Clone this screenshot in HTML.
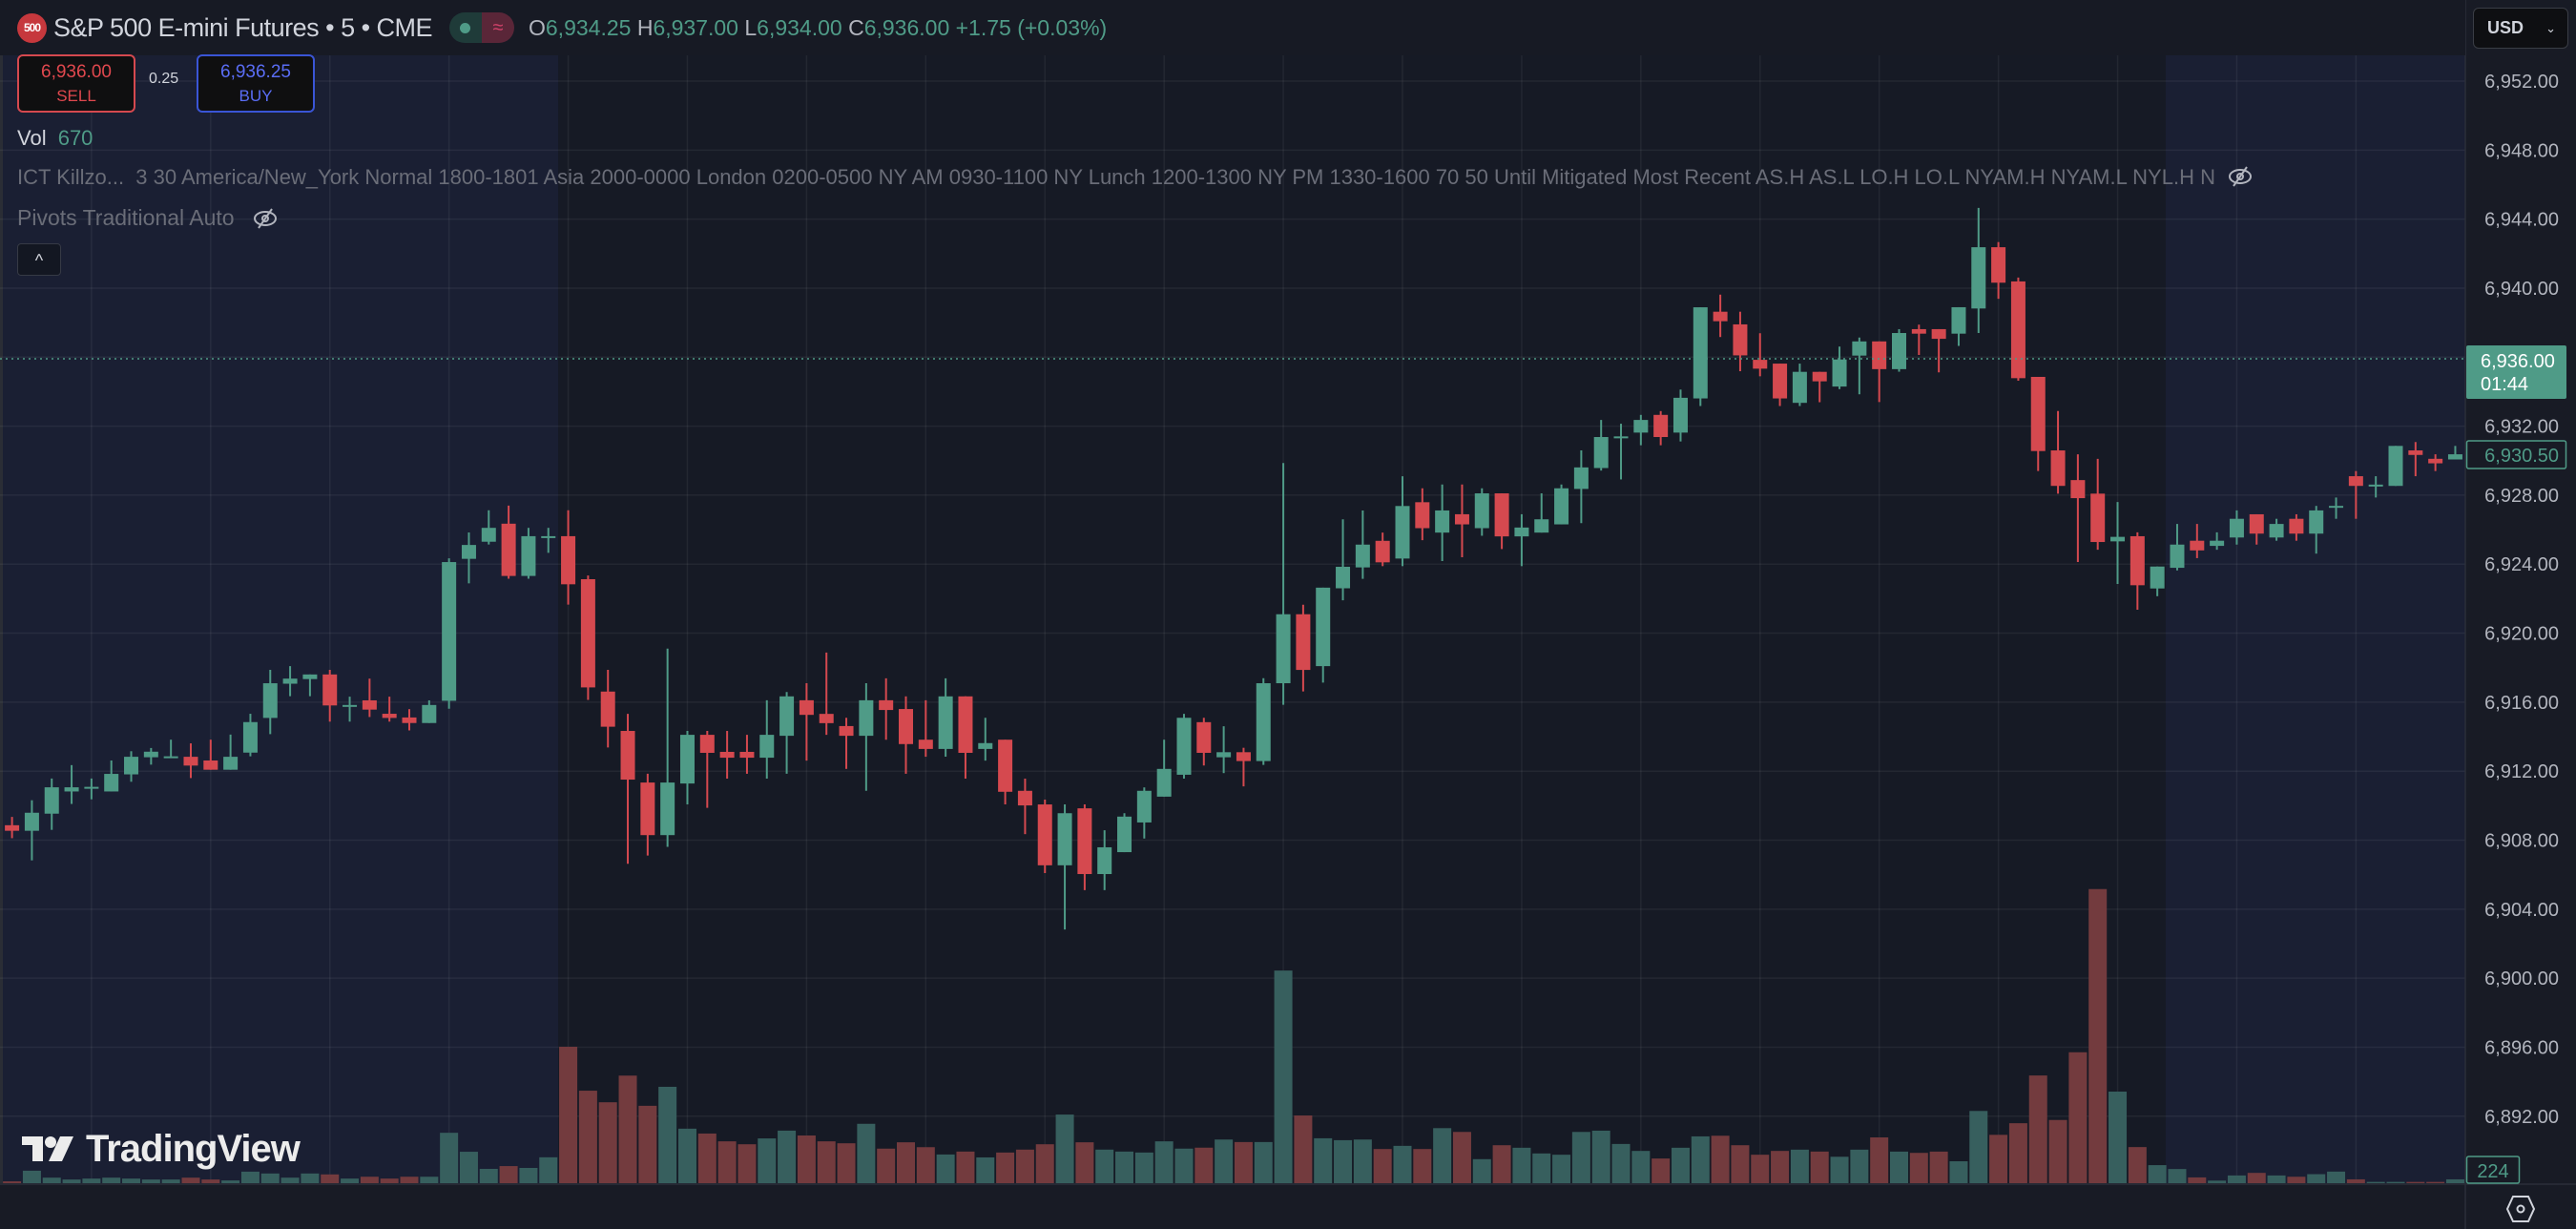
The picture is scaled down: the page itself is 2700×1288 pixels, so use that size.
<!DOCTYPE html>
<html><head><meta charset="utf-8">
<style>
html,body{margin:0;padding:0;background:#161a25;width:2700px;height:1288px;overflow:hidden;font-family:"Liberation Sans",sans-serif}
#c{position:absolute;left:0;top:0}
.t{position:absolute;white-space:nowrap}
</style></head><body>
<svg id="c" width="2700" height="1288" xmlns="http://www.w3.org/2000/svg"></svg>

<div class="t" style="left:0;top:0;width:2584px;height:58px;background:#171a24"></div>
<div class="t" style="left:18px;top:14px;width:31px;height:31px;border-radius:50%;background:#c6383d;color:#fff;font-size:12px;font-weight:bold;line-height:31px;text-align:center;letter-spacing:-1px">500</div>
<div class="t" style="left:56px;top:13px;font-size:27px;color:#d1d4dc;line-height:32px;letter-spacing:-0.5px">S&amp;P 500 E-mini Futures • 5 • CME</div>
<div class="t" style="left:471px;top:13px;width:34px;height:32px;background:#1f3b39;border-radius:16px 0 0 16px"></div>
<div class="t" style="left:505px;top:13px;width:34px;height:32px;background:#5a2638;border-radius:0 16px 16px 0;color:#d2426a;font-size:20px;line-height:32px;text-align:center">≈</div>
<div class="t" style="left:482px;top:24px;width:11px;height:11px;border-radius:50%;background:#4f9b87"></div>
<div class="t" style="left:554px;top:14px;font-size:23px;line-height:30px;color:#4f9b87"><span style="color:#b2b5be">O</span>6,934.25 <span style="color:#b2b5be">H</span>6,937.00 <span style="color:#b2b5be">L</span>6,934.00 <span style="color:#b2b5be">C</span>6,936.00 +1.75 (+0.03%)</div>

<div class="t" style="left:18px;top:57px;border:2px solid #d5494f;border-radius:6px;background:#0f0f10;text-align:center;color:#e0484e;font-size:19px;line-height:25px;padding-top:4px;box-sizing:border-box;width:124px;height:61px">6,936.00<br><span style="font-size:17px">SELL</span></div>
<div class="t" style="left:156px;top:74px;font-size:16px;color:#d1d4dc">0.25</div>
<div class="t" style="left:206px;top:57px;width:124px;height:61px;border:2px solid #3a55d6;border-radius:6px;background:#0f0f10;text-align:center;color:#5a6df5;font-size:19px;line-height:25px;padding-top:4px;box-sizing:border-box">6,936.25<br><span style="font-size:17px">BUY</span></div>

<div class="t" style="left:18px;top:132px;font-size:22px;color:#d1d4dc">Vol <span style="color:#4f9b87;margin-left:6px">670</span></div>
<div class="t" style="left:18px;top:171px;font-size:22px;color:#6a6d78;line-height:30px">ICT Killzo...&nbsp;&nbsp;3 30 America/New_York Normal 1800-1801 Asia 2000-0000 London 0200-0500 NY AM 0930-1100 NY Lunch 1200-1300 NY PM 1330-1600 70 50 Until Mitigated Most Recent AS.H AS.L LO.H LO.L NYAM.H NYAM.L NYL.H N</div>
<div class="t" style="left:18px;top:213px;font-size:23px;color:#6a6d78;line-height:30px">Pivots Traditional Auto</div>
<svg class="t" style="left:264px;top:216px" width="28" height="26" viewBox="0 0 28 26"><ellipse cx="14" cy="13" rx="11" ry="7" fill="none" stroke="#b2b5be" stroke-width="2"/><circle cx="14" cy="13" r="3" fill="none" stroke="#b2b5be" stroke-width="2"/><line x1="7" y1="23" x2="21" y2="3" stroke="#b2b5be" stroke-width="2"/></svg>
<svg class="t" style="left:2334px;top:172px" width="28" height="26" viewBox="0 0 28 26"><ellipse cx="14" cy="13" rx="11" ry="7" fill="none" stroke="#b2b5be" stroke-width="2"/><circle cx="14" cy="13" r="3" fill="none" stroke="#b2b5be" stroke-width="2"/><line x1="7" y1="23" x2="21" y2="3" stroke="#b2b5be" stroke-width="2"/></svg>
<div class="t" style="left:18px;top:255px;width:46px;height:34px;border:1px solid #363a45;border-radius:4px;background:#131722;color:#d1d4dc;font-size:18px;text-align:center;line-height:34px;box-sizing:border-box">^</div>

<div class="t" style="left:2592px;top:8px;width:100px;height:43px;border:1px solid #3a3d45;border-radius:6px;background:#0e0f12;box-sizing:border-box;color:#d1d4dc;font-size:18px;line-height:41px;padding-left:14px;font-weight:bold">USD<span style="position:absolute;right:12px;font-size:13px;font-weight:normal">⌄</span></div>

<div class="t" style="left:30px;top:1182px;font-size:40px;font-weight:bold;color:#ececec;letter-spacing:-1px;"><span style="display:inline-block;width:60px"></span>TradingView</div>
<svg class="t" style="left:23px;top:1189px" width="56" height="30"><path d="M0 2 H22 V28 H11 V11 H0 Z" fill="#ececec"/><circle cx="30" cy="8" r="6" fill="#ececec"/><path d="M40 2 H54 L42 28 H28 Z" fill="#ececec"/></svg>

<script>
const S=document.getElementById('c');
let h='';
const W=2584, BOT=1240;
function px(i){return 12.6+20.82*i}
h+=`<rect x="0" y="0" width="${W}" height="1240" fill="#161a25"/>`;
h+=`<rect x="0" y="0" width="585" height="1240" fill="#1a1f33"/>`;
h+=`<rect x="2270" y="0" width="${W-2270}" height="1240" fill="#1a1f33"/>`;
h+=`<rect x="0" y="0" width="3" height="1240" fill="#2a2d35"/>`;
for(let p=6952;p>=6892;p-=4){const y=85+(6952-p)*18.08;h+=`<line x1="0" x2="${W}" y1="${y}" y2="${y}" stroke="#ffffff" stroke-opacity="0.06" stroke-width="1.5"/>`;}
const labs=['07:30','08:00','08:30','09:00','09:30','10:00','10:30','11:00','11:30','12:00','12:30','13:00','13:30','14:00','14:30','15:00','15:30','16:00','16:30','18:00'];
labs.forEach((l,k)=>{const x=px(4+6*k);h+=`<line x1="${x}" x2="${x}" y1="0" y2="1240" stroke="#ffffff" stroke-opacity="0.06" stroke-width="1.5"/>`;h+=`<text x="${x}" y="1274" font-size="20" fill="#b2b5be" text-anchor="middle" font-family="Liberation Sans">${l}</text>`;});
const seg=[
 {y0:480,k:760/1568,s:0,d:[['r',794,806,776,822],['g',767,806,740,870],['g',712,769,693,804],['g',712,721,664,748],['g',711,713,693,738],['g',683,721,654,721],['g',646,684,634,700],['g',635,647,627,663],['g',645,647,609,647],['r',646,665,617,692],['r',654,674,609,674],['g',646,674,598,674],['g',571,637,553,645],['g',487,562,458,597],['g',477,488,450,515],['g',468,478,468,515],['r',468,535,458,570],['g',534,536,516,570],['r',524,544,477,560],['r',553,562,516,570],['r',561,573,543,589],['g',534,573,524,573],['g',225,525,217,542],['g',188,218,161,271],['g',151,181,113,187],['r',142,255,103,261],['g',169,255,151,261],['g',169,171,151,205],['r',169,273,113,317],['r',262,496,254,523],['r',505,581,458,626]],
  v:[1564,1541,1556,1560,1558,1556,1558,1560,1560,1556,1560,1562,1543,1547,1556,1547,1549,1558,1554,1558,1554,1554,1459,1500,1537,1531,1535,1512,1273,1368,1393]},
 {y0:440,k:800/1568,s:31,d:[['r',639,739,604,912],['r',745,853,727,895],['g',745,853,470,877],['g',647,747,639,790],['r',647,684,639,797],['r',682,694,639,737],['r',682,694,647,727],['g',647,694,576,737],['g',568,649,559,727],['r',576,606,541,700],['r',604,623,478,647],['r',629,649,612,717],['g',576,649,541,762],['r',576,596,531,657],['r',594,666,568,727],['r',657,676,576,692],['g',568,676,531,692],['r',568,684,568,737],['g',664,676,612,700],['r',657,764,657,790],['r',762,792,737,851],['r',790,915,780,931],['g',808,915,790,1047],['r',798,933,790,966],['g',878,933,843,966],['g',815,888,808,888],['g',762,827,755,860],['g',717,774,657,774],['g',612,729,604,737],['r',621,684,612,710]],
  v:[1347,1409,1370,1456,1466,1482,1488,1476,1460,1470,1482,1486,1446,1497,1484,1494,1509,1503,1515,1505,1499,1488,1427,1484,1499,1503,1505,1482,1497,1495]},
 {y0:200,k:1040/1568,s:61,d:[['g',887,895,846,920],['r',887,901,880,941],['g',778,901,770,907],['g',669,778,430,812],['r',669,757,654,791],['g',627,751,627,777],['g',594,628,519,647],['g',559,595,505,613],['r',553,587,540,593],['g',498,581,451,593],['r',492,533,470,552],['g',505,540,464,585],['r',511,527,464,579],['g',478,533,470,545],['r',478,546,478,566],['g',532,546,511,593],['g',519,540,478,540],['g',470,527,464,527],['g',437,471,410,525],['g',389,438,362,442],['g',388,390,368,456],['g',362,382,354,402],['r',354,389,348,402],['g',327,382,314,396],['g',184,328,184,340],['r',191,206,164,231],['r',211,260,191,285],['r',267,281,225,293],['r',273,328,273,340],['g',286,335,273,340],['r',286,301,286,334]],
  v:[1499,1503,1503,1232,1461,1497,1500,1499,1514,1509,1514,1481,1487,1530,1508,1512,1521,1523,1487,1485,1506,1517,1529,1512,1494,1493,1508,1523,1517,1515,1518]},
 {y0:180,k:1060/1568,s:92,d:[['g',291,333,271,337],['g',263,285,257,345],['r',263,306,263,357],['g',250,306,244,310],['r',244,251,237,284],['r',244,259,244,311],['g',210,251,210,270],['g',117,212,56,250],['r',117,172,109,197],['r',170,320,164,324],['r',318,433,318,464],['r',432,487,371,499],['r',478,506,438,605],['r',499,574,445,586],['g',566,573,512,639],['r',565,641,559,679],['g',612,646,612,658],['g',578,614,546,618],['r',572,587,546,599],['g',572,580,559,586],['g',538,567,525,578],['r',531,561,531,578],['g',546,567,538,572],['r',538,561,531,572],['g',525,561,518,592],['g',518,520,505,538],['r',472,487,464,538],['g',485,487,472,505],['g',425,487,425,487],['r',432,439,419,472],['r',445,452,438,464],['g',438,446,425,446]],
  v:[1527,1516,1497,1519,1521,1519,1534,1456,1493,1475,1401,1470,1365,1112,1426,1512,1540,1546,1559,1564,1556,1552,1556,1558,1554,1550,1562,1566,1566,1566,1566,1562]}
];
let vol='',cnd='';
seg.forEach(sg=>{
 const f=z=>sg.y0+z*sg.k;
 sg.d.forEach((b,j)=>{
  const i=sg.s+j,x=px(i);
  const col=b[0]=='g'?'#4f9b87':'#d5494f';
  let t=f(b[1]),bb=f(b[2]);if(bb-t<2)bb=t+2;
  cnd+=`<line x1="${x}" x2="${x}" y1="${f(b[3])}" y2="${f(b[4])}" stroke="${col}" stroke-width="2"/>`;
  cnd+=`<rect x="${x-7.5}" y="${t}" width="15" height="${bb-t}" fill="${col}"/>`;
  const vt=f(sg.v[j]);
  const vc=b[0]=='g'?'#375f5e':'#733b3e';
  vol+=`<rect x="${x-9.5}" y="${vt}" width="19" height="${Math.max(1,BOT-vt)}" fill="${vc}"/>`;
 });
});
h+=vol+cnd;
h+=`<line x1="0" x2="${W}" y1="376" y2="376" stroke="#4f9b87" stroke-width="1.5" stroke-dasharray="2 4"/>`;
h+=`<rect x="${W}" y="0" width="116" height="1288" fill="#181b25"/>`;
h+=`<rect x="0" y="1241" width="${W}" height="47" fill="#181b25"/>`;
h+=`<line x1="${W}" x2="${W}" y1="0" y2="1288" stroke="#2a2e39" stroke-width="1.5"/>`;
h+=`<line x1="0" x2="2700" y1="1241" y2="1241" stroke="#2a2e39" stroke-width="1.5"/>`;
for(let p=6952;p>=6892;p-=4){if(p==6936)continue;const y=85+(6952-p)*18.08;h+=`<text x="2682" y="${y+7}" font-size="20" fill="#b2b5be" text-anchor="end" font-family="Liberation Sans">${(p/1000|0)},${String(p%1000).padStart(3,'0')}.00</text>`;}
h+=`<rect x="2585" y="362" width="105" height="56" fill="#4f9b87" rx="2"/>`;
h+=`<text x="2600" y="385" font-size="20" fill="#fff" font-family="Liberation Sans">6,936.00</text>`;
h+=`<text x="2600" y="409" font-size="20" fill="#fff" font-family="Liberation Sans">01:44</text>`;
h+=`<rect x="2585.5" y="462" width="104" height="29" fill="#181b25" stroke="#4f9b87" stroke-width="1.5" rx="2"/>`;
h+=`<text x="2682" y="484" font-size="20" fill="#4f9b87" text-anchor="end" font-family="Liberation Sans">6,930.50</text>`;
h+=`<rect x="2585.5" y="1212" width="55" height="28" fill="#181b25" stroke="#4f9b87" stroke-width="1.5" rx="2"/>`;
h+=`<text x="2613" y="1234" font-size="20" fill="#4f9b87" text-anchor="middle" font-family="Liberation Sans">224</text>`;
h+=`<path d="M2634 1254 H2650 L2656 1267 L2650 1280 H2634 L2628 1267 Z" fill="none" stroke="#d1d4dc" stroke-width="2"/><circle cx="2642" cy="1267" r="3.5" fill="none" stroke="#d1d4dc" stroke-width="2"/>`;
S.innerHTML=h;
</script>
</body></html>
